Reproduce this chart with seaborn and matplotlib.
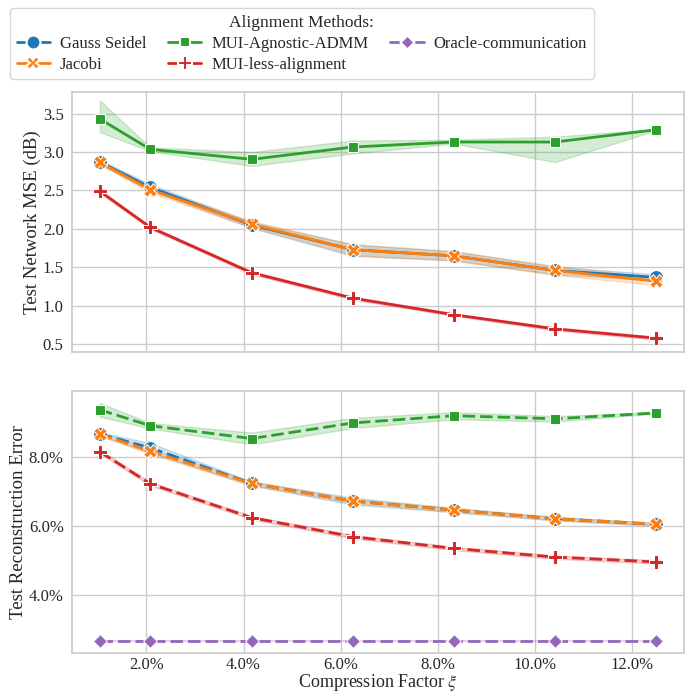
import numpy as np
import pandas as pd
import seaborn as sns
import matplotlib.pyplot as plt
from matplotlib.lines import Line2D
from matplotlib.ticker import PercentFormatter, MultipleLocator

sns.set_theme(style="whitegrid")
plt.rcParams['font.family'] = ['Liberation Serif', 'DejaVu Serif']
plt.rcParams['mathtext.fontset'] = 'stix'

# compression factor (%)
xi = [1.04, 2.08, 4.17, 6.25, 8.33, 10.42, 12.5]

methods = ['Gauss Seidel', 'Jacobi', 'MUI-Agnostic-ADMM', 'MUI-less-alignment', 'Oracle-communication']
marker_map = {'Gauss Seidel': 'o', 'Jacobi': 'X', 'MUI-Agnostic-ADMM': (4, 0, 45),
              'MUI-less-alignment': 'P', 'Oracle-communication': (4, 0, 0)}

# Test network MSE (dB): (lower, middle, upper)
mse = {
    'Gauss Seidel': ([2.84, 2.50, 2.01, 1.65, 1.59, 1.41, 1.33],
                     [2.87, 2.54, 2.05, 1.73, 1.65, 1.46, 1.37],
                     [2.90, 2.58, 2.09, 1.80, 1.71, 1.51, 1.41]),
    'Jacobi': ([2.84, 2.47, 2.02, 1.66, 1.59, 1.40, 1.27],
               [2.865, 2.51, 2.06, 1.73, 1.65, 1.46, 1.32],
               [2.89, 2.55, 2.10, 1.80, 1.71, 1.52, 1.37]),
    'MUI-Agnostic-ADMM': ([3.26, 3.01, 2.82, 2.98, 3.11, 2.87, 3.28],
                          [3.43, 3.035, 2.905, 3.065, 3.13, 3.13, 3.29],
                          [3.67, 3.06, 3.00, 3.15, 3.16, 3.20, 3.30]),
    'MUI-less-alignment': ([2.47, 2.00, 1.41, 1.08, 0.87, 0.68, 0.56],
                           [2.49, 2.02, 1.43, 1.10, 0.885, 0.70, 0.58],
                           [2.51, 2.04, 1.45, 1.12, 0.90, 0.72, 0.60]),
}

# Test reconstruction error (%): (lower, middle, upper)
rec = {
    'Gauss Seidel': ([8.61, 8.12, 7.17, 6.62, 6.40, 6.16, 6.01],
                     [8.66, 8.26, 7.23, 6.72, 6.46, 6.21, 6.05],
                     [8.71, 8.40, 7.28, 6.82, 6.52, 6.26, 6.09]),
    'Jacobi': ([8.61, 8.08, 7.17, 6.66, 6.40, 6.16, 6.01],
               [8.66, 8.16, 7.23, 6.72, 6.46, 6.21, 6.05],
               [8.71, 8.24, 7.29, 6.78, 6.52, 6.26, 6.09]),
    'MUI-Agnostic-ADMM': ([9.16, 8.82, 8.36, 8.83, 9.09, 9.02, 9.25],
                          [9.36, 8.90, 8.53, 8.98, 9.19, 9.10, 9.27],
                          [9.56, 8.98, 8.70, 9.13, 9.29, 9.18, 9.29]),
    'MUI-less-alignment': ([8.10, 7.17, 6.19, 5.64, 5.30, 5.05, 4.91],
                           [8.15, 7.22, 6.24, 5.69, 5.35, 5.10, 4.96],
                           [8.20, 7.27, 6.29, 5.74, 5.40, 5.15, 5.01]),
    'Oracle-communication': ([2.67] * 7, [2.68] * 7, [2.69] * 7),
}


def to_long(table):
    rows = []
    for m, (lo, mid, hi) in table.items():
        for arr in (lo, mid, hi):
            for x, v in zip(xi, arr):
                rows.append((m, x, v))
    return pd.DataFrame(rows, columns=['method', 'xi', 'value'])


palette = dict(zip(methods, sns.color_palette('tab10', 5)))

fig = plt.figure(figsize=(6.89, 6.94), dpi=100)
ax1 = fig.add_axes([0.1045, 0.4928, 0.8882, 0.3746])
ax2 = fig.add_axes([0.1045, 0.0591, 0.8882, 0.3775], sharex=ax1)

common = dict(x='xi', y='value', hue='method', style='method', palette=palette,
              markers=marker_map, dashes=False, estimator='median',
              errorbar=('pi', 100), linewidth=2, markersize=10, legend=False)

df1 = to_long(mse)
sns.lineplot(data=df1, ax=ax1, hue_order=methods[:4], style_order=methods[:4], **common)
df2 = to_long(rec)
sns.lineplot(data=df2, ax=ax2, hue_order=methods, style_order=methods,
             linestyle=(0, (4.5, 1.8)), **common)

ax1.set_ylim(0.40, 3.78)
ax1.set_ylabel('Test Network MSE (dB)', fontsize=13.5, labelpad=1.5)
ax1.set_xlabel('')
ax1.tick_params(axis='x', labelbottom=False, length=0)
ax1.tick_params(axis='y', labelsize=12, length=0, pad=6)

ax2.yaxis.set_major_locator(MultipleLocator(2))
ax2.yaxis.set_major_formatter(PercentFormatter(100, decimals=1))
ax2.xaxis.set_major_locator(MultipleLocator(2))
ax2.xaxis.set_major_formatter(PercentFormatter(100, decimals=1))
ax2.set_ylabel('Test Reconstruction Error', fontsize=13.5, labelpad=1.5)
ax2.set_xlabel('Compression Factor $\\xi$', fontsize=13, labelpad=-0.5)
ax2.tick_params(axis='x', labelsize=12, length=0, pad=3)
ax2.tick_params(axis='y', labelsize=12, length=0, pad=6)

for ax in (ax1, ax2):
    for s in ax.spines.values():
        s.set_color('#cccccc')

handles = [Line2D([], [], color=palette[m], marker=marker_map[m], lw=2, ms=10,
                  mec='w', mew=1.5, label=m) for m in methods]
fig.legend(handles=handles, title='Alignment Methods:', ncol=3,
           loc='upper left', bbox_to_anchor=(0.0145, 0.9885), borderaxespad=0,
           fontsize=12, title_fontsize=12.5, handlelength=2.0, columnspacing=1.3,
           frameon=True, edgecolor='#cccccc', borderpad=0.4,
           labelspacing=0.3, handletextpad=0.6)

fig.savefig('out.png', dpi=100)
